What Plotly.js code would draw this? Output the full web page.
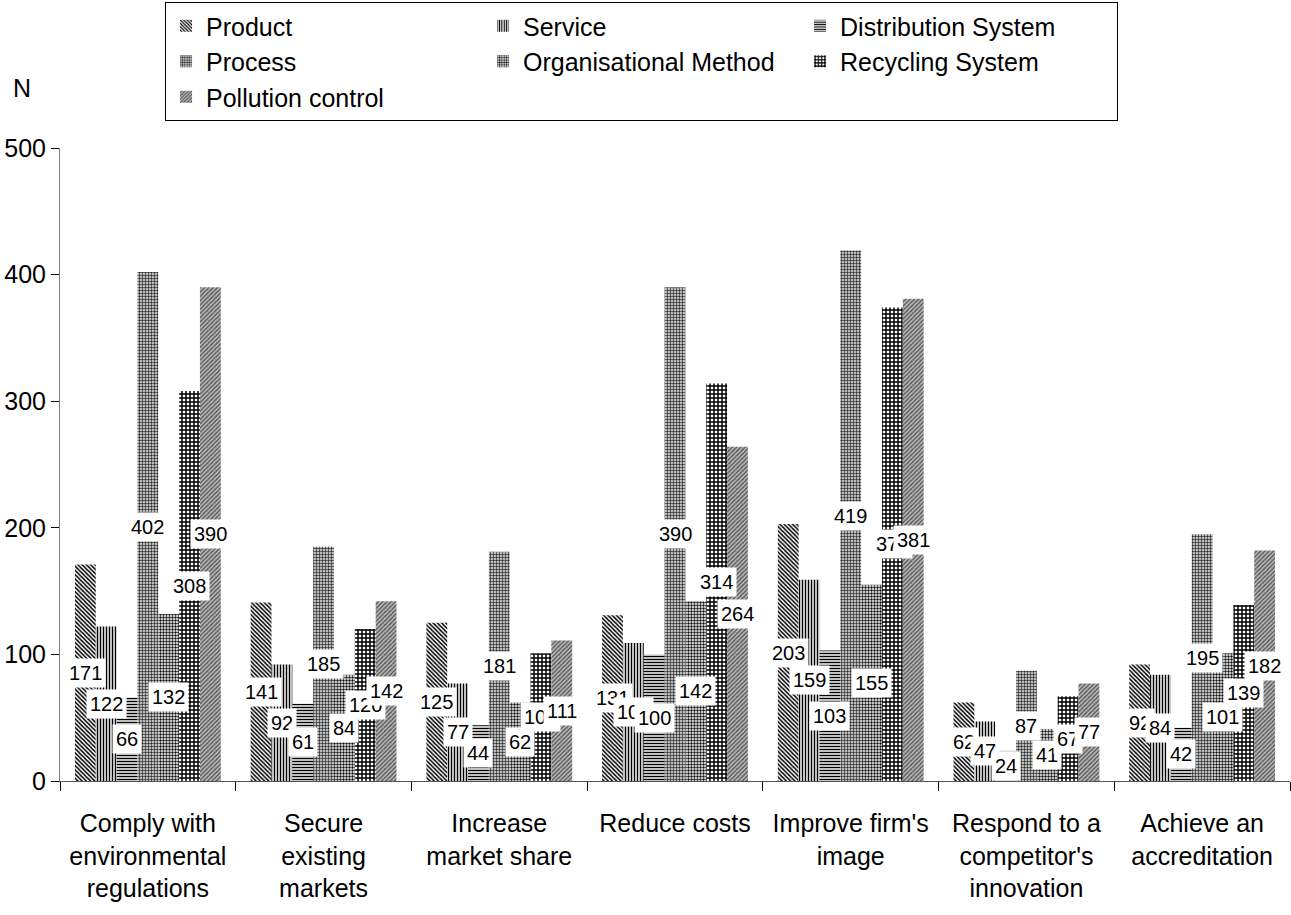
<!DOCTYPE html>
<html>
<head>
<meta charset="utf-8">
<script src="https://cdn.plot.ly/plotly-3.0.1.min.js"></script>
<style>html,body{margin:0;padding:0;background:#fff;}#chart{width:1291px;height:915px;}</style>
</head>
<body>
<div id="chart"></div>
<script>
const categories = [
  "Comply with<br>environmental<br>regulations",
  "Secure<br>existing<br>markets",
  "Increase<br>market share",
  "Reduce costs",
  "Improve firm's<br>image",
  "Respond to a<br>competitor's<br>innovation",
  "Achieve an<br>accreditation"
];
const seriesNames = ["Product", "Service", "Distribution System", "Process", "Organisational Method", "Recycling System", "Pollution control"];
const product      = [171, 141, 125, 131, 203, 62, 92];
const service      = [122, 92, 77, 109, 159, 47, 84];
const distribution = [66, 61, 44, 100, 103, 24, 42];
const processV     = [402, 185, 181, 390, 419, 87, 195];
const organisational = [132, 84, 62, 142, 155, 41, 101];
const recycling    = [308, 120, 101, 314, 374, 67, 139];
const pollution    = [390, 142, 111, 264, 381, 77, 182];
const yTicks = [0, 100, 200, 300, 400, 500];

const seriesValues = [product, service, distribution, processV, organisational, recycling, pollution];
const patterns = [
  {shape: "\\", fgcolor: "#000", bgcolor: "#fff", size: 3, solidity: 0.5},
  {shape: "|",  fgcolor: "#000", bgcolor: "#fff", size: 3, solidity: 0.5},
  {shape: "-",  fgcolor: "#000", bgcolor: "#fff", size: 3, solidity: 0.5},
  {shape: "+",  fgcolor: "#000", bgcolor: "#bbb", size: 3, solidity: 0.3},
  {shape: ".",  fgcolor: "#111", bgcolor: "#fff", size: 3, solidity: 0.5},
  {shape: "+",  fgcolor: "#000", bgcolor: "#fff", size: 4, solidity: 0.6},
  {shape: "/",  fgcolor: "#555", bgcolor: "#bbb", size: 3, solidity: 0.45}
];
const FONT = "Liberation Sans, Arial, sans-serif";
const bargap = 0.17;

const traces = seriesNames.map((name, j) => ({
  type: "bar",
  name: name,
  x: categories,
  y: seriesValues[j],
  marker: {color: "#fff", line: {width: 0}, pattern: Object.assign({fillmode: "replace"}, patterns[j])},
  hoverinfo: "x+y+name"
}));

const annotations = [];
const nS = seriesNames.length;
const bw = (1 - bargap) / nS;
seriesValues.forEach((vals, j) => {
  vals.forEach((v, i) => {
    annotations.push({
      xref: "x", yref: "y",
      x: i - (1 - bargap) / 2 + (j + 0.5) * bw,
      y: v / 2,
      text: String(v),
      showarrow: false,
      bgcolor: "#fff",
      borderpad: 3,
      font: {family: FONT, size: 20, color: "#000"}
    });
  });
});
annotations.push({
  xref: "paper", yref: "paper", x: -0.031, y: 1.0948, xanchor: "center", yanchor: "middle",
  text: "N", showarrow: false, font: {family: FONT, size: 25, color: "#000"}
});

const layout = {
  width: 1291, height: 915,
  margin: {l: 60, r: 1, t: 148, b: 134},
  paper_bgcolor: "#fff", plot_bgcolor: "#fff",
  barmode: "group", bargap: bargap, bargroupgap: 0,
  font: {family: FONT, size: 25, color: "#000"},
  showlegend: true,
  legend: {
    orientation: "h", x: 0.0854, xanchor: "left", y: 1.2306, yanchor: "top",
    bordercolor: "#000", borderwidth: 1, bgcolor: "#fff",
    entrywidth: 272, entrywidthmode: "pixels",
    font: {family: FONT, size: 25, color: "#000"},
    traceorder: "normal", tracegroupgap: 0
  },
  xaxis: {
    type: "category", showline: true, linecolor: "#555", linewidth: 1,
    ticks: "outside", tickson: "boundaries", ticklen: 9, tickcolor: "#000",
    ticklabelstandoff: 20,
    showgrid: false, zeroline: false,
    tickfont: {family: FONT, size: 25, color: "#000"}
  },
  yaxis: {
    range: [0, 500], tickvals: yTicks, ticktext: yTicks.map(String),
    showline: true, linecolor: "#808080", linewidth: 1,
    ticks: "outside", ticklen: 8, tickcolor: "#000",
    showgrid: false, zeroline: false,
    tickfont: {family: FONT, size: 25, color: "#000"}
  },
  annotations: annotations
};

Plotly.newPlot("chart", traces, layout, {displayModeBar: false, staticPlot: true});
</script>
</body>
</html>
